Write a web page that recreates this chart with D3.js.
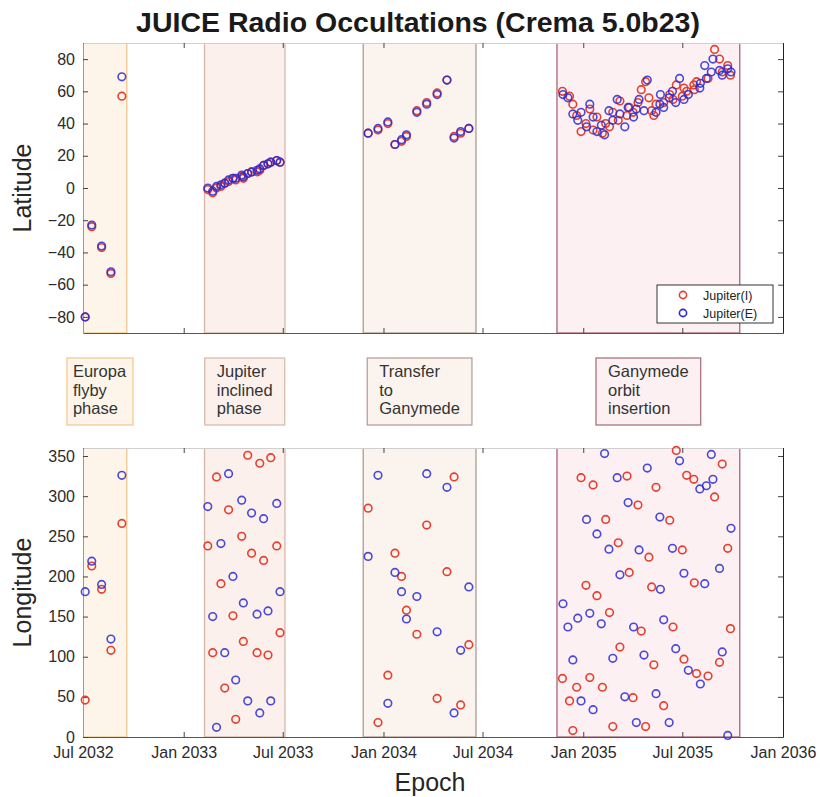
<!DOCTYPE html>
<html><head><meta charset="utf-8">
<script src="https://cdnjs.cloudflare.com/ajax/libs/d3/7.8.5/d3.min.js"></script>
<style>body{margin:0;background:#fff}text{font-family:"Liberation Sans",Arial,Helvetica,sans-serif}</style>
</head><body>
<svg id="c" width="820" height="797"></svg>
<script>
// ---------- DATA ----------
const titleText = "JUICE Radio Occultations (Crema 5.0b23)";
const xDomain = ["2032-07-01", "2036-01-01"];
const xTickDates = ["2032-07-01","2033-01-01","2033-07-01","2034-01-01","2034-07-01","2035-01-01","2035-07-01","2036-01-01"];
const latDomain = [-90, 90];
const latTicks = [-80,-60,-40,-20,0,20,40,60,80];
const lonDomain = [0, 360];
const lonTicks = [0,50,100,150,200,250,300,350];
const seriesNames = ["Jupiter(I)", "Jupiter(E)"];

const phaseNames = [["Europa","flyby","phase"],["Jupiter","inclined","phase"],["Transfer","to","Ganymede"],["Ganymede","orbit","insertion"]];
const phaseStart = ["2032-06-13","2033-02-08","2033-11-25","2034-11-14"];
const phaseEnd   = ["2032-09-19","2033-07-05","2034-06-19","2035-10-14"];

// Ingress (red)
const ingressDate = [
 "2032-07-05","2032-07-17","2032-08-04","2032-08-21","2032-09-10",
 "2033-02-14","2033-02-23","2033-03-02","2033-03-10","2033-03-17","2033-03-24","2033-04-01","2033-04-06","2033-04-17","2033-04-20",
 "2033-04-28","2033-05-05","2033-05-15","2033-05-20","2033-05-27","2033-06-04","2033-06-09","2033-06-20","2033-06-26",
 "2033-12-04","2033-12-22","2034-01-09","2034-01-22","2034-02-03","2034-02-12","2034-03-03","2034-03-21","2034-04-09","2034-04-27",
 "2034-05-10","2034-05-22","2034-06-06",
 "2034-11-24","2034-12-07","2034-12-13","2034-12-20","2034-12-28","2035-01-06","2035-01-13","2035-01-19","2035-01-26","2035-02-05",
 "2035-02-11","2035-02-18","2035-02-24","2035-03-06","2035-03-09","2035-03-22","2035-03-26","2035-04-02","2035-04-11","2035-04-17",
 "2035-04-25","2035-05-01","2035-05-06","2035-05-10","2035-05-14","2035-05-28","2035-06-08","2035-06-14","2035-06-20","2035-07-01",
 "2035-07-04","2035-07-09","2035-07-22","2035-07-23","2035-07-27","2035-08-17","2035-08-29","2035-09-07","2035-09-12","2035-09-22",
 "2035-09-27"];
const ingressLat = [
 -80,-24,-37,-53,57,
 -1,-3,0,1,3,4,6,5,7,6,9,10,10,11,14,15,16,17,16,
 34,36,40,27,29,32,48,53,59,67,32,34,37,
 60,57,52,45,35,40,49,36,44,34, 40,38,47,42,54,45,50,47,53,61,
 66,56,48,45,52,53,58,55,64,57, 62,60,64,61,66,68,86,80,72,76, 70];
const ingressLon = [
 46,213,184,108,266,
 238,105,324,191,61,283,151,22,250,119,351,229,105,341,220,102,348,238,130,
 285,18,77,229,200,158,128,264,48,206,324,40,115,
 73,45,8,62,323,189,74,314,176,62, 271,155,13,242,112,325,205,49,289,132,
 13,224,187,90,311,39,270,137,357,233, 97,326,321,192,79,76,299,93,340,235, 135];

// Egress (blue)
const egressDate = [
 "2032-07-05","2032-07-17","2032-08-04","2032-08-21","2032-09-10",
 "2033-02-14","2033-02-23","2033-03-02","2033-03-10","2033-03-17","2033-03-24","2033-04-01","2033-04-06","2033-04-17","2033-04-20",
 "2033-04-28","2033-05-05","2033-05-15","2033-05-20","2033-05-27","2033-06-04","2033-06-09","2033-06-20","2033-06-26",
 "2033-12-04","2033-12-22","2034-01-09","2034-01-22","2034-02-03","2034-02-12","2034-03-03","2034-03-21","2034-04-09","2034-04-27",
 "2034-05-10","2034-05-22","2034-06-06",
 "2034-11-25","2034-12-04","2034-12-13","2034-12-22","2034-12-28","2035-01-07","2035-01-13","2035-01-19","2035-01-26","2035-02-03",
 "2035-02-09","2035-02-17","2035-02-24","2035-03-04","2035-03-09","2035-03-18","2035-03-24","2035-04-03","2035-04-08","2035-04-13",
 "2035-04-22","2035-04-28","2035-05-14","2035-05-21","2035-05-22","2035-05-28","2035-06-07","2035-06-13","2035-06-19","2035-06-26",
 "2035-07-04","2035-07-12","2035-08-02","2035-08-03","2035-08-11","2035-08-14","2035-08-23","2035-08-26","2035-09-07","2035-09-12",
 "2035-09-22","2035-09-28"];
const egressLat = [
 -80,-23,-36,-52,69,
 0,-2,1,2,3,5,6,6,8,7,9,10,11,12,14,15,16,17,16,
 34,37,41,27,30,33,47,52,58,67,31,35,37,
 58,56,46,42,47,38,52,44,35,39, 33,48,42,55,46,38,50,44,49,55,
 48,67,47,52,58,50,56,60,53,68, 55,58,62,65,76,68,72,80,73,70, 74,72];
const egressLon = [
 181,219,190,122,326,
 287,150,12,241,105,328,200,71,295,167,45,279,153,30,272,157,45,291,181,
 225,326,42,205,181,147,175,328,131,311,30,108,187,
 166,137,96,148,45,271,154,34,253,141, 353,234,98,323,202,50,292,137,18,233,
 102,335,54,274,184,146,18,235,110,344, 204,83,309,66,191,313,352,321,210,106, 2,260];

// ---------- STYLE ----------
const colIn = "#e5402f", colEg = "#2a2ad2";
const phaseFill = ["#fdf5ea","#fbf0eb","#fbf3ee","#fcf0f3"];
const phaseEdge = ["#f4c58c","#d8b6a6","#b09a90","#a8667a"];

const parse = d3.utcParse("%Y-%m-%d");
const svg = d3.select("#c");
const L = 83, R = 783;
const x = d3.scaleUtc().domain(xDomain.map(parse)).range([L, R]);
const fmt = d3.utcFormat("%b %Y");

const ingress = ingressDate.map((d,i)=>({t:parse(d), lat:ingressLat[i], lon:ingressLon[i]}));
const egress  = egressDate.map((d,i)=>({t:parse(d), lat:egressLat[i], lon:egressLon[i]}));

const panels = [
  {key:"lat", y:d3.scaleLinear().domain(latDomain).range([333,43]), ticks:latTicks, label:"Latitude", xlabels:false},
  {key:"lon", y:d3.scaleLinear().domain(lonDomain).range([737,448]), ticks:lonTicks, label:"Longitude", xlabels:true}
];

panels.forEach((p,pi)=>{
  const [yb, yt] = p.y.range();
  const g = svg.append("g");
  const cid = "clip"+pi;
  svg.append("clipPath").attr("id",cid).append("rect").attr("x",L).attr("y",yt).attr("width",R-L+2).attr("height",yb-yt);
  // phases
  g.append("g").attr("clip-path",`url(#${cid})`).selectAll("rect").data(phaseStart).join("rect")
    .attr("x",(d,i)=>x(parse(d))).attr("width",(d,i)=>x(parse(phaseEnd[i]))-x(parse(d)))
    .attr("y",yt).attr("height",yb-yt)
    .attr("fill",(d,i)=>phaseFill[i]).attr("stroke",(d,i)=>phaseEdge[i]).attr("stroke-width",1.3);
  // axes
  const axB = d3.axisBottom(x).tickValues(xTickDates.map(parse)).tickSizeInner(-5).tickSizeOuter(0).tickPadding(10)
      .tickFormat(p.xlabels ? fmt : ()=> "");
  const axT = d3.axisTop(x).tickValues(xTickDates.map(parse)).tickSizeInner(-5).tickSizeOuter(0).tickFormat(()=> "");
  const axLft = d3.axisLeft(p.y).tickValues(p.ticks).tickSizeInner(-5).tickSizeOuter(0).tickPadding(8);
  const axRt = d3.axisRight(p.y).tickValues(p.ticks).tickSizeInner(-5).tickSizeOuter(0).tickFormat(()=> "");
  const gt = g.append("g").attr("transform",`translate(0,${yt})`).call(axT);
  gt.select(".domain").attr("stroke","#cfcfcf");
  const gb = g.append("g").attr("transform",`translate(0,${yb})`).call(axB);
  const gl = g.append("g").attr("transform",`translate(${L},0)`).call(axLft);
  gl.select(".domain").attr("stroke","#9a9a9a");
  const gr = g.append("g").attr("transform",`translate(${R},0)`).call(axRt);
  [gt,gb,gl,gr].forEach(a=>{
    a.selectAll(".tick line").attr("stroke","#444");
    a.selectAll("text").attr("font-size",16).attr("fill","#2b2b2b").attr("font-family","Liberation Sans, Arial, sans-serif");
  });
  gb.select(".domain").attr("stroke","#555");
  gr.select(".domain").attr("stroke","#222");
  // points
  const pts = g.append("g");
  pts.selectAll("circle.in").data(ingress).join("circle").attr("class","in")
    .attr("cx",d=>x(d.t)).attr("cy",d=>p.y(d[p.key])).attr("r",3.8)
    .attr("fill","none").attr("stroke",colIn).attr("stroke-width",1.6);
  pts.selectAll("circle.eg").data(egress).join("circle").attr("class","eg")
    .attr("cx",d=>x(d.t)).attr("cy",d=>p.y(d[p.key])).attr("r",3.8)
    .attr("fill","none").attr("stroke",colEg).attr("stroke-width",1.6).attr("stroke-opacity",0.85);
  // y label
  svg.append("text").attr("transform",`translate(31,${(yb+yt)/2}) rotate(-90)`).attr("text-anchor","middle")
    .attr("font-size",25).attr("fill","#262626").text(p.label);
});

// legend
const lg = svg.append("g").attr("transform","translate(657,285)");
lg.append("rect").attr("width",116).attr("height",38).attr("fill","#fff").attr("stroke","#333").attr("stroke-width",1);
[colIn,colEg].forEach((c,i)=>{
  lg.append("circle").attr("cx",26).attr("cy",10+i*18).attr("r",3.6).attr("fill","none").attr("stroke",c).attr("stroke-width",1.6);
  lg.append("text").attr("x",46).attr("y",14.5+i*18).attr("font-size",12.5).attr("fill","#222").text(seriesNames[i]);
});

// phase label boxes
const boxTop = 358, boxH = 67, fs = 16.5, lh = 18.5;
phaseNames.forEach((lines,i)=>{
  const g = svg.append("g");
  const x0 = x(parse(phaseStart[i])), x1 = x(parse(phaseEnd[i]));
  const t = g.append("text").attr("font-size",fs).attr("fill","#333");
  lines.forEach((s,j)=>t.append("tspan").attr("x",0).attr("y",boxTop+19+j*lh).text(s));
  const tw = t.node().getBBox().width;
  const pw = x1 - x0;
  const w = Math.min(Math.max(pw, tw+12), tw+24);
  const cx = (x0+x1)/2;
  g.insert("rect","text").attr("x",cx-w/2).attr("y",boxTop).attr("width",w).attr("height",boxH)
    .attr("fill",phaseFill[i]).attr("stroke",phaseEdge[i]).attr("stroke-width",1.2);
  t.selectAll("tspan").attr("x",cx-tw/2);
});

// title & x label
svg.append("text").attr("x",418).attr("y",32).attr("text-anchor","middle").attr("font-size",28.5)
  .attr("font-weight","bold").attr("fill","#1a1a1a").text(titleText);
svg.append("text").attr("x",430).attr("y",791).attr("text-anchor","middle").attr("font-size",25)
  .attr("fill","#262626").text("Epoch");
</script>
</body></html>
